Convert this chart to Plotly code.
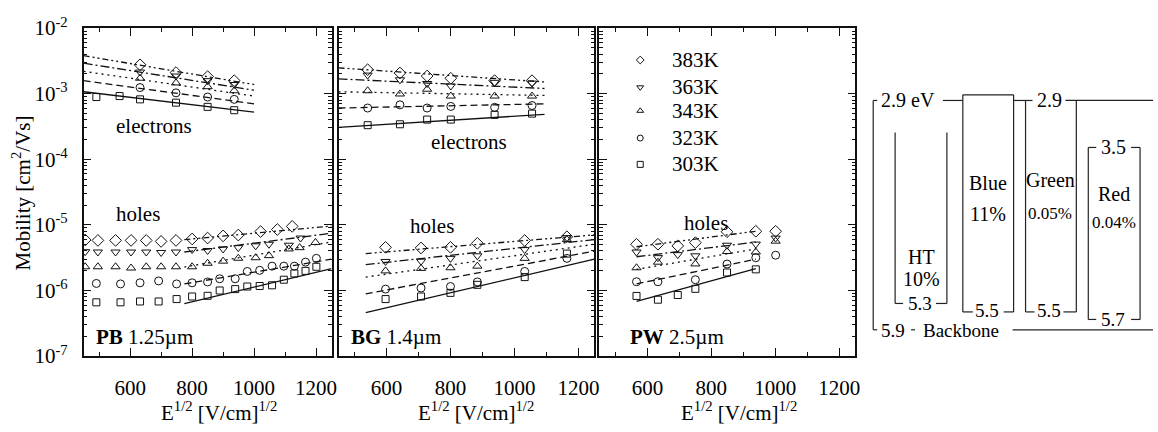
import plotly.graph_objects as go

W, H = 1158, 432
FONT = "'Liberation Serif', 'Times New Roman', 'DejaVu Serif', serif"

# ---------------------------------------------------------------- data
TEMPS = ["303K", "323K", "343K", "363K", "383K"]

# PB 1.25um, electrons (mobility in cm^2/Vs vs E^1/2)
PB_E_X = [[491, 566, 632, 748, 850, 936],
          [632, 748, 850, 936],
          [632, 748, 850, 936],
          [632, 748, 850, 936],
          [632, 748, 850, 936]]
PB_E_Y = [[8.9e-4, 9.2e-4, 8.2e-4, 7.3e-4, 6.3e-4, 5.6e-4],
          [1.24e-3, 1.03e-3, 8.9e-4, 8.2e-4],
          [1.72e-3, 1.46e-3, 1.28e-3, 1.11e-3],
          [2.14e-3, 1.86e-3, 1.58e-3, 1.38e-3],
          [2.76e-3, 2.10e-3, 1.82e-3, 1.58e-3]]
PB_E_FIT_X = [450, 1000]
PB_E_FIT_Y = [[1.07e-3, 5.25e-4],
              [1.58e-3, 7.0e-4],
              [2.19e-3, 9.2e-4],
              [2.92e-3, 1.13e-3],
              [3.8e-3, 1.38e-3]]

# PB 1.25um, holes
PB_H_X = [[491, 569, 632, 692, 750, 800, 850, 889, 939, 978, 1018, 1058, 1096, 1130, 1166, 1201],
          [491, 569, 632, 692, 750, 800, 850, 889, 939, 978, 1018, 1058, 1096, 1130, 1166, 1201],
          [455, 496, 553, 603, 652, 700, 748, 800, 850, 900, 949, 1005, 1048, 1112, 1147, 1198],
          [455, 496, 553, 603, 652, 700, 748, 800, 850, 900, 949, 1005, 1048, 1112, 1150],
          [455, 496, 553, 603, 652, 700, 748, 800, 850, 900, 949, 1021, 1075, 1123]]
PB_H_Y = [[6.6e-7, 6.6e-7, 6.8e-7, 6.8e-7, 7.4e-7, 8.1e-7, 8.3e-7, 1.0e-6, 1.05e-6, 1.15e-6,
           1.17e-6, 1.2e-6, 1.46e-6, 1.82e-6, 1.99e-6, 2.3e-6],
          [1.28e-6, 1.26e-6, 1.31e-6, 1.40e-6, 1.26e-6, 1.31e-6, 1.35e-6, 1.51e-6, 1.51e-6, 1.95e-6,
           2.03e-6, 2.35e-6, 2.35e-6, 2.35e-6, 2.71e-6, 3.09e-6],
          [2.3e-6, 2.3e-6, 2.3e-6, 2.2e-6, 2.3e-6, 2.3e-6, 2.3e-6, 2.3e-6, 2.6e-6, 2.8e-6,
           3.1e-6, 3.16e-6, 3.4e-6, 4.3e-6, 4.5e-6, 5.4e-6],
          [3.9e-6, 3.86e-6, 3.86e-6, 3.86e-6, 3.86e-6, 3.8e-6, 3.86e-6, 4.2e-6, 4.07e-6, 4.3e-6,
           4.5e-6, 4.8e-6, 5.07e-6, 4.9e-6, 6.3e-6],
          [5.9e-6, 5.8e-6, 5.8e-6, 5.8e-6, 5.8e-6, 5.6e-6, 5.8e-6, 6.1e-6, 6.3e-6, 6.8e-6,
           7.0e-6, 7.9e-6, 8.5e-6, 9.5e-6]]
PB_H_FIT_X = [775, 1250]
PB_H_FIT_Y = [[6.3e-7, 2.15e-6],
              [1.26e-6, 3.0e-6],
              [2.28e-6, 5.5e-6],
              [3.86e-6, 7.45e-6],
              [5.97e-6, 9.6e-6]]

# BG 1.4um, electrons
BG_E_X = [[541, 642, 727, 801, 938, 1055]] * 5
BG_E_Y = [[3.31e-4, 3.42e-4, 4.03e-4, 4.03e-4, 4.76e-4, 4.97e-4],
          [6.05e-4, 6.76e-4, 6.05e-4, 6.4e-4, 6.2e-4, 6.6e-4],
          [1.11e-3, 9.9e-4, 1.17e-3, 9.2e-4, 9.2e-4, 9.2e-4],
          [1.92e-3, 1.63e-3, 1.43e-3, 1.31e-3, 1.49e-3, 1.45e-3],
          [2.32e-3, 2.07e-3, 1.86e-3, 1.72e-3, 1.58e-3, 1.58e-3]]
BG_E_FIT_X = [450, 1094]
BG_E_FIT_Y = [[3.06e-4, 4.85e-4],
              [6.05e-4, 7.0e-4],
              [1.07e-3, 9.4e-4],
              [1.68e-3, 1.2e-3],
              [2.48e-3, 1.51e-3]]

# BG 1.4um, holes
BG_H_X = [[597, 708, 800, 884, 1032, 1164]] * 5
BG_H_Y = [[7.4e-7, 8.1e-7, 9.2e-7, 1.22e-6, 1.6e-6, 3.65e-6],
          [1.05e-6, 1.09e-6, 1.15e-6, 1.35e-6, 1.95e-6, 3.09e-6],
          [1.99e-6, 2.17e-6, 2.22e-6, 2.35e-6, 3.09e-6, 5.97e-6],
          [2.77e-6, 2.8e-6, 3.09e-6, 3.38e-6, 4.2e-6, 6.4e-6],
          [4.55e-6, 4.45e-6, 4.55e-6, 5.24e-6, 5.78e-6, 6.6e-6]]
BG_H_FIT_X = [535, 1250]
BG_H_FIT_Y = [[4.6e-7, 3.0e-6],
              [8.9e-7, 3.98e-6],
              [1.6e-6, 5.07e-6],
              [2.48e-6, 5.97e-6],
              [3.65e-6, 7.05e-6]]

# PW 2.5um, holes
PW_H_X = [[566, 633, 695, 750, 849, 939],
          [566, 633, 750, 849, 939, 1001],
          [566, 633, 750, 849, 939, 1001],
          [566, 633, 695, 750, 849, 939, 1001],
          [566, 633, 695, 750, 849, 939, 1001]]
PW_H_Y = [[8.26e-7, 7.24e-7, 8.53e-7, 1.06e-6, 1.88e-6, 2.1e-6],
          [1.36e-6, 1.36e-6, 1.46e-6, 2.53e-6, 3.16e-6, 3.45e-6],
          [2.22e-6, 2.7e-6, 2.54e-6, 3.93e-6, 3.86e-6, 5.65e-6],
          [3.86e-6, 3.17e-6, 3.52e-6, 3.38e-6, 4.9e-6, 5.1e-6, 6.3e-6],
          [5.07e-6, 5.07e-6, 4.79e-6, 5.36e-6, 7.86e-6, 8.0e-6, 8.0e-6]]
PW_H_FIT_X = [566, 939]
PW_H_FIT_Y = [[6.8e-7, 2.15e-6],
              [1.26e-6, 3.0e-6],
              [2.1e-6, 4.3e-6],
              [3.27e-6, 5.47e-6],
              [4.64e-6, 8.0e-6]]

X_TICKS = [600, 800, 1000, 1200]
X_MINOR = [500, 700, 900, 1100]
Y_DECADES = [-7, -6, -5, -4, -3, -2]

# energy-level scheme (eV)
LAYERS = ["HT", "Blue", "Green", "Red"]
LAYER_PCT = ["10%", "11%", "0.05%", "0.04%"]
LAYER_TOP = [None, None, "2.9", "3.5"]
LAYER_BOTTOM = ["5.3", "5.5", "5.5", "5.7"]
BACKBONE = ("2.9 eV", "5.9")

# ---------------------------------------------------------------- styling
SYMBOLS = ["square-open", "circle-open", "triangle-up-open", "triangle-down-open", "diamond-open"]
SIZES = [7, 8, 8, 8, 9]
DASHES = ["solid", "7px,4px", "2px,4px", "9px,3px,2px,3px", "6px,3px,2px,3px,2px,3px"]
INK = "#111111"


def px(x):
    return x / W


def py(y):
    return 1 - y / H


fig = go.Figure()


def add_panel(xs, ys, fit_x, fit_y, xa, ya):
    for i in range(5):
        fig.add_trace(go.Scatter(
            x=fit_x, y=fit_y[i], mode="lines", xaxis=xa, yaxis=ya,
            line=dict(color=INK, width=1.3, dash=DASHES[i]), showlegend=False,
            hoverinfo="skip"))
        fig.add_trace(go.Scatter(
            x=xs[i], y=ys[i], mode="markers", xaxis=xa, yaxis=ya, name=TEMPS[i],
            marker=dict(symbol=SYMBOLS[i], size=SIZES[i], color=INK,
                        line=dict(width=1, color=INK)),
            showlegend=False))


add_panel(PB_E_X, PB_E_Y, PB_E_FIT_X, PB_E_FIT_Y, "x", "y")
add_panel(PB_H_X, PB_H_Y, PB_H_FIT_X, PB_H_FIT_Y, "x", "y")
add_panel(BG_E_X, BG_E_Y, BG_E_FIT_X, BG_E_FIT_Y, "x2", "y2")
add_panel(BG_H_X, BG_H_Y, BG_H_FIT_X, BG_H_FIT_Y, "x2", "y2")
add_panel(PW_H_X, PW_H_Y, PW_H_FIT_X, PW_H_FIT_Y, "x3", "y3")

# label-only twin x axes need a (empty) trace to be drawn
for xa, ya in (("x5", "y"), ("x6", "y2"), ("x7", "y3")):
    fig.add_trace(go.Scatter(x=[None], y=[None], xaxis=xa, yaxis=ya, mode="markers",
                             showlegend=False, hoverinfo="skip"))

# ---------------------------------------------------------------- axes
tickfont = dict(family=FONT, size=21, color="black")
X_RANGE = [450, 1250]


def xaxis(dom, anchor):
    # frame axis: inside ticks on bottom and top, labels carried by a twin axis
    return dict(domain=dom, range=X_RANGE, anchor=anchor, tickvals=X_TICKS,
                ticks="inside", ticklen=8, tickwidth=1.2, tickcolor=INK,
                minor=dict(tickvals=X_MINOR, ticks="inside", ticklen=4,
                           tickwidth=1.2, tickcolor=INK),
                showline=True, linewidth=1.5, linecolor=INK, mirror="ticks",
                showgrid=False, zeroline=False, showticklabels=False, fixedrange=True)


def xlabels(dom, over, anchor):
    # label-only twin; transparent outside ticks push the labels off the frame
    return dict(domain=dom, range=X_RANGE, overlaying=over, anchor=anchor,
                side="bottom", tickvals=X_TICKS, ticks="outside", ticklen=13,
                tickcolor="rgba(0,0,0,0)", showline=False, showgrid=False,
                zeroline=False, tickfont=tickfont, fixedrange=True)


minor_y = [m * 10.0 ** d for d in Y_DECADES[:-1] for m in range(2, 10)]


def yaxis(anchor, labels):
    return dict(domain=[py(364), py(15)], type="log", range=[-7, -2], anchor=anchor,
                tickvals=[10.0 ** d for d in Y_DECADES],
                ticktext=["10<sup>%d</sup>" % d for d in Y_DECADES],
                showticklabels=labels, ticks="inside", ticklen=8, tickwidth=1.2,
                tickcolor=INK,
                minor=dict(tickvals=minor_y, ticks="inside", ticklen=4,
                           tickwidth=1.0, tickcolor=INK),
                showline=True, linewidth=1.5, linecolor=INK, mirror="ticks",
                showgrid=False, zeroline=False, tickfont=tickfont,
                ticklabelstandoff=10, fixedrange=True)


D1, D2, D3 = [px(84), px(333)], [px(340), px(597)], [px(602), px(859)]
fig.update_layout(
    xaxis=xaxis(D1, "y"),
    xaxis2=xaxis(D2, "y2"),
    xaxis3=xaxis(D3, "y3"),
    xaxis5=xlabels(D1, "x", "y"),
    xaxis6=xlabels(D2, "x2", "y2"),
    xaxis7=xlabels(D3, "x3", "y3"),
    yaxis=yaxis("x", True),
    yaxis2=yaxis("x2", False),
    yaxis3=yaxis("x3", False),
    # full-figure overlay used for the legend glyphs and the level scheme
    xaxis4=dict(domain=[0, 1], range=[0, W], visible=False, anchor="y4", fixedrange=True),
    yaxis4=dict(domain=[0, 1], range=[H, 0], visible=False, anchor="x4", fixedrange=True),
)

# ---------------------------------------------------------------- legend (in PW panel)
leg_y = [160, 132, 103, 78, 49]
for i in range(5):
    fig.add_trace(go.Scatter(
        x=[643], y=[leg_y[i]], mode="markers", xaxis="x4", yaxis="y4",
        marker=dict(symbol=SYMBOLS[i], size=6, color=INK, line=dict(width=1, color=INK)),
        showlegend=False, hoverinfo="skip"))

annotations = []


def text(x, y, s, size=21, xanchor="center", ref="paper"):
    if ref == "paper":
        annotations.append(dict(x=px(x), y=py(y), xref="paper", yref="paper", text=s,
                                showarrow=False, xanchor=xanchor, yanchor="middle",
                                font=dict(family=FONT, size=size, color="black")))
    else:
        annotations.append(dict(x=x, y=y, xref="x4", yref="y4", text=s,
                                showarrow=False, xanchor=xanchor, yanchor="middle",
                                font=dict(family=FONT, size=size, color="black")))


for i in range(5):
    text(673, leg_y[i], TEMPS[i], 21, "left")

# ---------------------------------------------------------------- panel labels
text(114, 119, "electrons", 21, "left")
text(114, 213, "holes", 21, "left")
text(94, 344, "<b>PB</b> 1.25\u00b5m", 21, "left")
text(431, 136, "electrons", 21, "left")
text(410, 226, "holes", 21, "left")
text(351, 344, "<b>BG</b> 1.4\u00b5m", 21, "left")
text(685, 222, "holes", 21, "left")
text(631, 344, "<b>PW</b> 2.5\u00b5m", 21, "left")

xtitle = "E<sup>1/2</sup> [V/cm]<sup>1/2</sup>"
for cx in (220, 478, 742):
    text(cx, 423, xtitle, 21)
annotations.append(dict(x=px(22), y=py(190), xref="paper", yref="paper",
                        text="Mobility [cm<sup>2</sup>/Vs]", textangle=-90,
                        showarrow=False, xanchor="center", yanchor="middle",
                        font=dict(family=FONT, size=21, color="black")))

# ---------------------------------------------------------------- level scheme
segs = [
    # backbone bracket
    ((877, 92), (877, 336)), ((877, 92), (881, 92)), ((947, 92), (967, 92)),
    ((877, 336), (881, 336)), ((915, 336), (919, 336)), ((1017, 336), (1158, 336)),
    # HT
    ((899, 126), (899, 308)), ((951, 126), (951, 308)),
    ((899, 308), (907, 308)), ((940, 308), (951, 308)),
    # Blue
    ((967, 86), (1018, 86)), ((967, 86), (967, 317)), ((1018, 86), (1018, 317)),
    ((967, 317), (977, 317)), ((1008, 317), (1018, 317)),
    # Green
    ((1018, 92), (1037, 92)), ((1030, 92), (1030, 317)), ((1081, 92), (1081, 317)),
    ((1070, 92), (1158, 92)), ((1030, 317), (1039, 317)), ((1068, 317), (1081, 317)),
    # Red
    ((1093, 142), (1093, 325)), ((1145, 142), (1145, 325)),
    ((1093, 142), (1101, 142)), ((1136, 142), (1145, 142)),
    ((1093, 325), (1101, 325)), ((1136, 325), (1145, 325)),
]
sx, sy = [], []
for (a, b) in segs:
    sx += [a[0], b[0], None]
    sy += [a[1], b[1], None]
fig.add_trace(go.Scatter(x=sx, y=sy, mode="lines", xaxis="x4", yaxis="y4",
                         line=dict(color="#222222", width=1.2), showlegend=False,
                         hoverinfo="skip"))

text(912, 92, BACKBONE[0], 20, ref="x4")
text(897, 337, BACKBONE[1], 19, ref="x4")
text(965, 337, "Backbone", 19, ref="x4")

centers = [925, 992, 1055, 1119]
name_y = [259, 180, 177, 192]
pct_y = [282, 213, 212, 222]
pct_size = [20, 20, 17, 17]
top_y = [None, None, 92, 142]
bot_y = [308, 316, 316, 325]
for i in range(4):
    text(centers[i], name_y[i], LAYERS[i], 20, ref="x4")
    text(centers[i], pct_y[i], LAYER_PCT[i], pct_size[i], ref="x4")
    if LAYER_TOP[i]:
        text(centers[i] - 1, top_y[i], LAYER_TOP[i], 20, ref="x4")
    text(centers[i] - 1, bot_y[i], LAYER_BOTTOM[i], 19, ref="x4")

fig.update_layout(
    width=W, height=H, margin=dict(l=0, r=0, t=0, b=0),
    paper_bgcolor="white", plot_bgcolor="rgba(0,0,0,0)",
    showlegend=False, annotations=annotations,
    font=dict(family=FONT, color="black"),
)

fig.write_html("out.html")
